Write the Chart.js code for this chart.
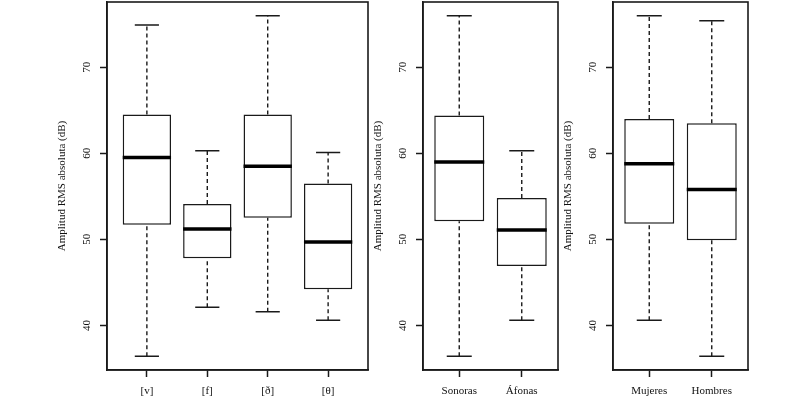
<!DOCTYPE html>
<html>
<head>
<meta charset="utf-8">
<script src="https://cdn.jsdelivr.net/npm/chart.js@4.4.1/dist/chart.umd.min.js"></script>
<style>
  html, body { margin: 0; padding: 0; background: #fff; }
  #wrap { position: relative; width: 803px; height: 399px; overflow: hidden; }
  .panel { position: absolute; top: 0; height: 399px; }
  .panel canvas { display: block; }
</style>
</head>
<body>
<div id="wrap">
  <div class="panel" style="left:52px; width:317px;"><canvas id="chart-fonema"></canvas></div>
  <div class="panel" style="left:368px; width:191px;"><canvas id="chart-sonoridad"></canvas></div>
  <div class="panel" style="left:558px; width:191px;"><canvas id="chart-sexo"></canvas></div>
</div>
<script>
// Panel 1: por fonema
const fonemas = ['[v]', '[f]', '[ð]', '[θ]'];
const fonemaMin = [36.4, 42.1, 41.6, 40.6];
const fonemaQ1 = [51.7, 47.8, 52.5, 44.2];
const fonemaMed = [59.5, 51.2, 58.5, 49.7];
const fonemaQ3 = [64.5, 54.1, 64.5, 56.5];
const fonemaMax = [74.9, 60.3, 76.0, 60.1];

// Panel 2: sonoridad
const sonoridad = ['Sonoras', 'Áfonas'];
const sonoridadMin = [36.4, 40.6];
const sonoridadQ1 = [52.1, 46.9];
const sonoridadMed = [59.0, 51.1];
const sonoridadQ3 = [64.4, 54.8];
const sonoridadMax = [76.0, 60.3];

// Panel 3: sexo
const sexo = ['Mujeres', 'Hombres'];
const sexoMin = [40.6, 36.4];
const sexoQ1 = [51.8, 49.9];
const sexoMed = [58.8, 55.8];
const sexoQ3 = [64.0, 63.5];
const sexoMax = [76.0, 75.4];

const yTicks = [40, 50, 60, 70];
const yTitle = 'Amplitud RMS absoluta (dB)';

const INK = '#1a1a1a';
const TEXT = '#111';
const FONT = { family: "'Liberation Serif', 'Times New Roman', serif", size: 11 };

// marco alrededor del area del grafico (como box() en R)
const framePlugin = {
    id: 'frame',
    afterDraw(chart) {
        const a = chart.chartArea;
        const ctx = chart.ctx;
        ctx.save();
        ctx.strokeStyle = INK;
        ctx.lineWidth = 1.6;
        ctx.strokeRect(a.left, a.top, a.right - a.left, a.bottom - a.top);
        ctx.restore();
    }
};

function makePanel(id, cats, mins, q1s, meds, q3s, maxs) {
    const n = cats.length;
    const lo = Math.min(...mins), hi = Math.max(...maxs);
    const pad = (hi - lo) * 0.04;

    const whiskers = [], caps = [], medians = [], boxes = [];
    for (let i = 0; i < n; i++) {
        whiskers.push({ x: i, y: q3s[i] }, { x: i, y: maxs[i] }, { x: i, y: null },
                      { x: i, y: mins[i] }, { x: i, y: q1s[i] }, { x: i, y: null });
        caps.push({ x: i - 0.2, y: maxs[i] }, { x: i + 0.2, y: maxs[i] }, { x: i, y: null },
                  { x: i - 0.2, y: mins[i] }, { x: i + 0.2, y: mins[i] }, { x: i, y: null });
        medians.push({ x: i - 0.4, y: meds[i] }, { x: i + 0.4, y: meds[i] }, { x: i, y: null });
        boxes.push({ x: i, y: [q1s[i], q3s[i]] });
    }

    const lineBase = { type: 'line', pointRadius: 0, spanGaps: false, fill: false, tension: 0, borderCapStyle: 'butt', order: 0 };

    return new Chart(document.getElementById(id), {
        type: 'bar',
        data: {
            datasets: [
                { ...lineBase, label: 'bigotes', data: whiskers, borderColor: INK, borderWidth: 1.4, borderDash: [4, 3] },
                { ...lineBase, label: 'extremos', data: caps, borderColor: INK, borderWidth: 1.5 },
                { ...lineBase, label: 'mediana', data: medians, borderColor: '#000', borderWidth: 3.5 },
                {
                    type: 'bar', label: 'caja', data: boxes, order: 2,
                    backgroundColor: '#fff', borderColor: INK, borderWidth: 1.5, borderSkipped: false,
                    categoryPercentage: 1, barPercentage: 0.8
                }
            ]
        },
        options: {
            responsive: true,
            maintainAspectRatio: false,
            animation: false,
            events: [],
            layout: { padding: { top: 2, right: 1, left: 0, bottom: 0 } },
            plugins: { legend: { display: false }, tooltip: { enabled: false } },
            scales: {
                x: {
                    type: 'linear',
                    offset: false,
                    min: -0.5 - 0.04 * n,
                    max: n - 0.5 + 0.04 * n,
                    afterBuildTicks: (s) => { s.ticks = cats.map((c, i) => ({ value: i })); },
                    afterFit: (s) => { s.height = 29; s.paddingLeft = 0; s.paddingRight = 0; },
                    grid: { display: true, offset: false, drawOnChartArea: false, tickLength: 7, tickColor: INK, tickWidth: 1.5 },
                    border: { display: true, color: INK, width: 1.5 },
                    ticks: {
                        autoSkip: false, maxRotation: 0, minRotation: 0, padding: 8,
                        color: TEXT, font: FONT,
                        callback: (v) => cats[Math.round(v)]
                    }
                },
                y: {
                    min: lo - pad,
                    max: hi + pad,
                    afterBuildTicks: (s) => { s.ticks = yTicks.map(v => ({ value: v })); },
                    afterFit: (s) => { s.width = 55; s.paddingTop = 0; s.paddingBottom = 0; },
                    grid: { display: true, drawOnChartArea: false, tickLength: 7, tickColor: INK, tickWidth: 1.5 },
                    border: { display: true, color: INK, width: 1.5 },
                    ticks: {
                        minRotation: 90, maxRotation: 90, crossAlign: 'center', padding: 7,
                        color: TEXT, font: FONT
                    },
                    title: { display: true, text: yTitle, color: TEXT, font: FONT, padding: { top: 4, bottom: 4 } }
                }
            }
        },
        plugins: [framePlugin]
    });
}

makePanel('chart-fonema', fonemas, fonemaMin, fonemaQ1, fonemaMed, fonemaQ3, fonemaMax);
makePanel('chart-sonoridad', sonoridad, sonoridadMin, sonoridadQ1, sonoridadMed, sonoridadQ3, sonoridadMax);
makePanel('chart-sexo', sexo, sexoMin, sexoQ1, sexoMed, sexoQ3, sexoMax);
</script>
</body>
</html>
